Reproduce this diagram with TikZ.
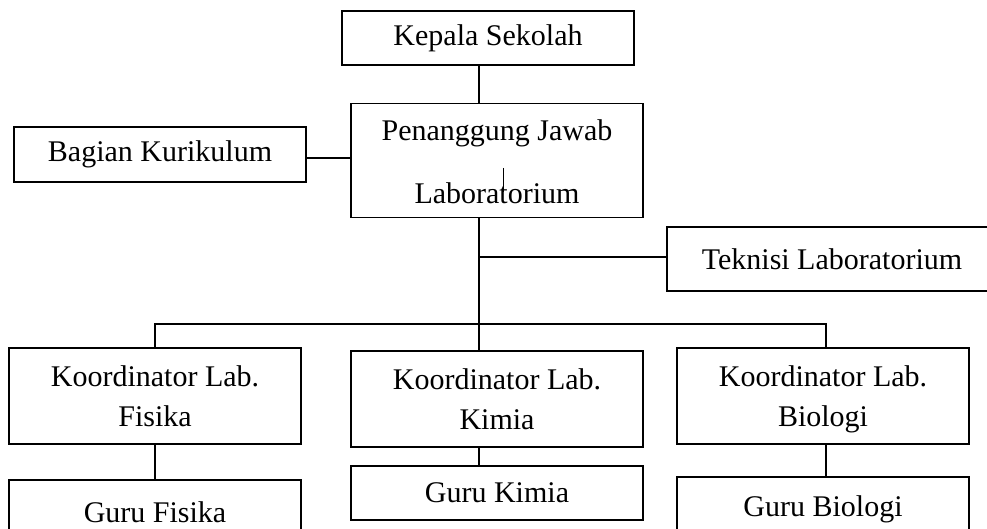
\documentclass[tikz,border=0pt]{standalone}
\usepackage{fontspec}
\setmainfont{Liberation Serif}
\begin{document}
\begin{tikzpicture}[x=1pt,y=-1pt,
  box/.style={draw,line width=1.3pt,inner sep=0pt,align=center,font=\fontsize{30}{40}\selectfont},
  conn/.style={line width=1.3pt}]
\useasboundingbox (0,0) rectangle (987,529);
\node[box,minimum width=292pt,minimum height=54pt] (ks) at (488,38) {Kepala Sekolah};
\node[box,minimum width=292pt,minimum height=114pt,font=\fontsize{30}{63}\selectfont] (pj) at (497,160.5) {\rule{0pt}{24pt}Penanggung Jawab\\Laboratorium};
\node[box,minimum width=292pt,minimum height=55pt] (bk) at (160,154.5) {Bagian Kurikulum};
\node[box,minimum width=340pt,minimum height=64pt] (tk) at (837,259) {\hspace*{-10pt}Teknisi Laboratorium};
\node[box,minimum width=292pt,minimum height=96pt] (kf) at (155,396) {Koordinator Lab.\\Fisika};
\node[box,minimum width=292pt,minimum height=96pt] (kk) at (497,399) {Koordinator Lab.\\Kimia};
\node[box,minimum width=292pt,minimum height=96pt,text depth=0pt] (kb) at (823,396) {Koordinator Lab.\\Biologi};
\node[box,minimum width=292pt,minimum height=64pt] (gf) at (155,512) {Guru Fisika};
\node[box,minimum width=292pt,minimum height=54pt] (gk) at (497,493) {Guru Kimia};
\node[box,minimum width=292pt,minimum height=64pt] (gb) at (823,509) {Guru Biologi};
\coordinate (trunk) at (479,0);
\coordinate (bus) at (0,324);
\coordinate (tkj) at (479,257);
\coordinate (fx) at (155,0);
\coordinate (bx) at (826,0);
% connectors
\draw[conn] (ks.south -| trunk) -- (pj.north -| trunk);
\draw[conn] (bk.east |- 0,158) -- (pj.west |- 0,158);
\draw[conn] (pj.south -| trunk) -- (kk.north -| trunk);
\draw[conn] (tkj) -- (tk.west |- tkj);
\draw[conn] (kf.north -| fx) -- (fx |- bus) -- (bx |- bus) -- (kb.north -| bx);
\draw[conn] (kf.south -| fx) -- (gf.north -| fx);
\draw[conn] (kk.south -| trunk) -- (gk.north -| trunk);
\draw[conn] (kb.south -| bx) -- (gb.north -| bx);
% stray tick inside the Penanggung Jawab box
\draw[line width=0.8pt] ([xshift=6pt,yshift=-7.5pt]pj.center) -- ([xshift=6pt,yshift=-31.5pt]pj.center);
\end{tikzpicture}
\end{document}
